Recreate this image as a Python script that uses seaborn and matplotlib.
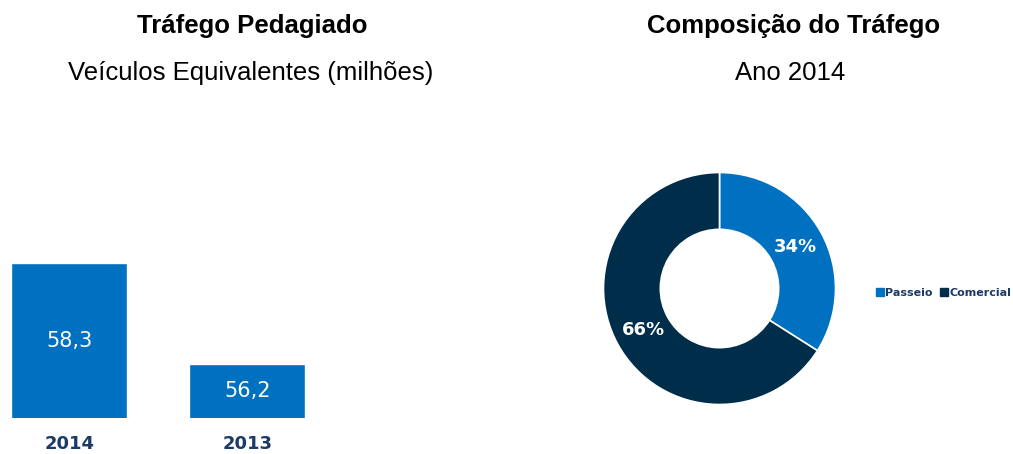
import matplotlib
matplotlib.use("Agg")
import matplotlib.pyplot as plt
import seaborn as sns
import pandas as pd
from matplotlib.lines import Line2D

sns.set_theme(style="white")
plt.rcParams['font.family'] = ['Liberation Sans', 'DejaVu Sans']

# ---- data ----
years = ["2014", "2013"]
traffic = [58.3, 56.2]
traffic_labels = ["58,3", "56,2"]
comp_labels = ["Passeio", "Comercial"]
comp_values = [34, 66]

BLUE = "#0070C0"
DARK = "#002D4A"
NAVY = "#1B3A66"

W, H = 1013, 454
fig = plt.figure(figsize=(W / 100, H / 100), dpi=100)
fig.patch.set_facecolor("white")

# ---- bar chart ----
ax1 = fig.add_axes([1.4 / W, 36 / H, 313.7 / W, 188 / H])
df = pd.DataFrame({"ano": years, "valor": traffic})
sns.barplot(data=df, x="ano", y="valor", order=years, color=BLUE,
            width=0.652, saturation=1, ax=ax1)
ax1.set_xlim(-0.38, 1.38)
ax1.set_ylim(55.07, 59.0)
for sp in ax1.spines.values():
    sp.set_visible(False)
ax1.set_yticks([])
ax1.set_xlabel("")
ax1.set_ylabel("")
ax1.tick_params(axis="x", length=0, pad=12)
for t in ax1.get_xticklabels():
    t.set_fontfamily("DejaVu Sans")
    t.set_fontweight("bold")
    t.set_fontsize(13)
    t.set_color(NAVY)
for i, (v, lab) in enumerate(zip(traffic, traffic_labels)):
    ax1.text(i, (55.07 + v) / 2, lab, ha="center", va="center",
             color="white", fontsize=15, family="DejaVu Sans")

# ---- donut ----
ax2 = fig.add_axes([603.5 / W, 49.5 / H, 232 / W, 232 / H])
wedges, _t, autotexts = ax2.pie(
    comp_values, colors=[BLUE, DARK], startangle=90, counterclock=False,
    radius=1, autopct=lambda p: f"{p:.0f}%", pctdistance=0.75,
    wedgeprops=dict(width=0.49, edgecolor="white", linewidth=1.2))
for a in autotexts:
    a.set_color("white")
    a.set_fontsize(13)
    a.set_fontweight("bold")
    a.set_family("DejaVu Sans")
ax2.set_xlim(-1, 1)
ax2.set_ylim(-1, 1)
ax2.set_aspect("equal")
ax2.axis("off")

handles = [Line2D([0], [0], marker="s", linestyle="none", markersize=5.5,
                  markerfacecolor=c, markeredgecolor=c) for c in (BLUE, DARK)]
leg = fig.legend(handles, comp_labels, loc="center left",
                 bbox_to_anchor=(866 / W, 1 - 293 / H), ncol=2, frameon=False,
                 handletextpad=0.05, columnspacing=0.6, handlelength=0.8,
                 prop=dict(family="DejaVu Sans", weight="bold", size=8))
for t in leg.get_texts():
    t.set_color(NAVY)

# ---- titles ----
fig.text(252 / W, 1 - 26 / H, "Tráfego Pedagiado", ha="center", va="center",
         fontsize=18.5, fontweight="bold", color="black")
fig.text(251 / W, 1 - 73 / H, "Veículos Equivalentes (milhões)", ha="center",
         va="center", fontsize=18.5, color="black")
fig.text(794 / W, 1 - 26 / H, "Composição do Tráfego", ha="center",
         va="center", fontsize=18.5, fontweight="bold", color="black")
fig.text(790 / W, 1 - 73 / H, "Ano 2014", ha="center", va="center",
         fontsize=18.5, color="black")

fig.savefig("out.png", dpi=100, facecolor="white")
